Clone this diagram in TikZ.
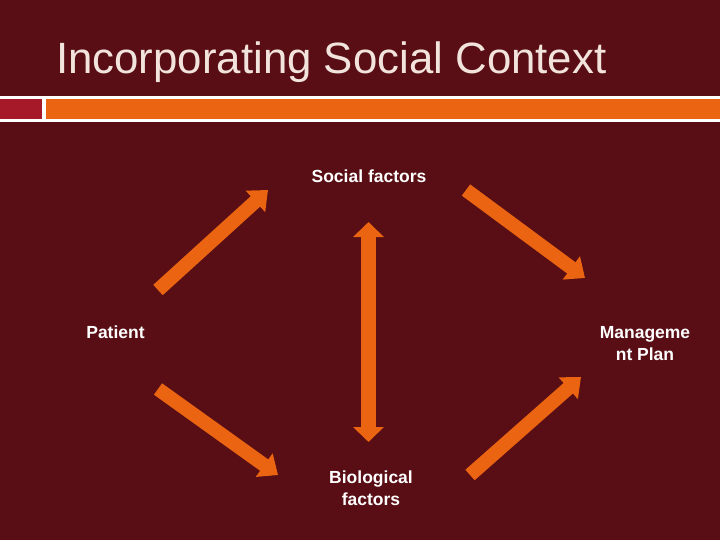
\documentclass[tikz,border=0pt]{standalone}
\usepackage{fontspec}
\setmainfont{Liberation Sans}
\usetikzlibrary{arrows.meta}
\definecolor{bgmaroon}{RGB}{88,14,20}
\definecolor{barorange}{RGB}{234,100,18}
\definecolor{barred}{RGB}{165,25,40}
\definecolor{titletext}{RGB}{242,228,220}
\tikzset{
  blockarrow/.style={draw=barorange, line width=14pt,
    -{Triangle[width=28pt,length=17pt]}},
  dblarrow/.style={draw=barorange, line width=15pt,
    {Triangle[width=30pt,length=15pt]}-{Triangle[width=30pt,length=15pt]}},
  lbl/.style={text=white, font=\bfseries\fontsize{17.5}{22}\selectfont,
    inner sep=0pt, align=center, anchor=base}
}
\begin{document}
\begin{tikzpicture}[x=1pt,y=-1pt]
\fill[bgmaroon] (0,0) rectangle (720,540);
\useasboundingbox (0,0) rectangle (720,540);
% band
\fill[white] (0,96.5) rectangle (720,122.5);
\fill[barred] (0,99.5) rectangle (42,119.5);
\fill[barorange] (46,99.5) rectangle (720,119.5);
% title
\node[anchor=base west, inner sep=0pt, text=titletext,
  font=\fontsize{43.8}{50}\selectfont] (title) at (56,74) {Incorporating Social Context};
% labels
\node[lbl] (social) at (369,183) {Social factors};
\node[lbl] (patient) at (115.5,338) {Patient};
\node[lbl] (plan) at (645,360.5) {Manageme\\nt Plan};
\node[lbl] (bio) at (371,505) {Biological\\factors};
% arrow end points
\coordinate (a1s) at (158,290);
\coordinate (a1e) at (268,190);
\coordinate (a2s) at (466,190);
\coordinate (a2e) at (585,278);
\coordinate (a3s) at (368.5,222);
\coordinate (a3e) at (368.5,442);
\coordinate (a4s) at (158,389);
\coordinate (a4e) at (278,475);
\coordinate (a5s) at (470,475);
\coordinate (a5e) at (581,377);
\draw[blockarrow] (a1s) -- (a1e);
\draw[blockarrow] (a2s) -- (a2e);
\draw[dblarrow] (a3s) -- (a3e);
\draw[blockarrow] (a4s) -- (a4e);
\draw[blockarrow] (a5s) -- (a5e);
\end{tikzpicture}
\end{document}
